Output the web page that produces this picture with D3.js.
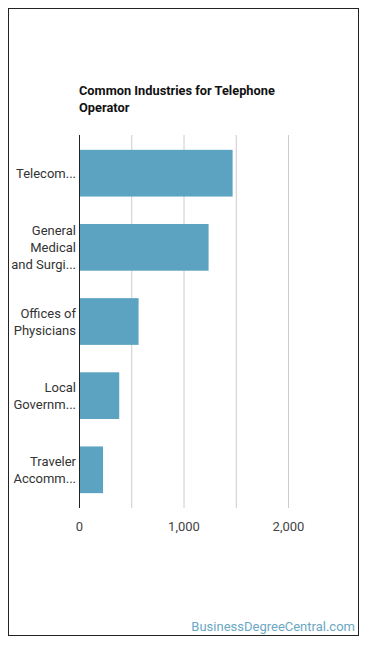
<!DOCTYPE html>
<html>
<head>
<meta charset="utf-8">
<script src="https://cdn.jsdelivr.net/npm/d3@7"></script>
<style>
  body { margin: 0; background: #fff; font-family: Roboto, sans-serif; }
  .tick text { font-family: Roboto, sans-serif; }
</style>
</head>
<body>
<div id="chart"></div>
<script>
// Datos
const industrias = [
  ["Telecom..."],
  ["General", "Medical", "and Surgi..."],
  ["Offices of", "Physicians"],
  ["Local", "Governm..."],
  ["Traveler", "Accomm..."]
]
const empleos = [1470, 1240, 570, 385, 230]
const ticksX = [0, 1000, 2000]
const gridX = [500, 1000, 1500, 2000]

const width = 370
const height = 648
const margin = { top: 135, bottom: 140, left: 79, right: 82 }

const svg = d3.select("#chart").append("svg")
  .attr("width", width)
  .attr("height", height)

// marco
svg.append("rect")
  .attr("x", 8.5).attr("y", 8.5)
  .attr("width", 350).attr("height", 627)
  .attr("fill", "none").attr("stroke", "#222").attr("stroke-width", 1)

// titulo
svg.append("text")
  .attr("x", 79).attr("y", 95)
  .attr("font-size", 12.8).attr("font-weight", "bold").attr("fill", "#111")
  .text("Common Industries for Telephone")
svg.append("text")
  .attr("x", 79).attr("y", 112)
  .attr("font-size", 12.8).attr("font-weight", "bold").attr("fill", "#111")
  .text("Operator")

const ids = industrias.map((d, i) => i)
const x = d3.scaleLinear().domain([0, 2000]).range([margin.left, width - margin.right])
const y = d3.scaleBand().domain(ids).range([margin.top, height - margin.bottom]).paddingInner(0.37).paddingOuter(0.2)

// rejilla
svg.append("g").selectAll("line")
  .data(gridX).enter().append("line")
  .attr("x1", d => x(d) + 0.5).attr("x2", d => x(d) + 0.5)
  .attr("y1", margin.top).attr("y2", height - margin.bottom)
  .attr("stroke", "#ccc").attr("stroke-width", 1)

// barras
svg.append("g").selectAll("rect")
  .data(empleos).enter().append("rect")
  .attr("x", x(0))
  .attr("y", (d, i) => y(i))
  .attr("width", d => x(d) - x(0))
  .attr("height", y.bandwidth())
  .attr("fill", "#5ba3c0")

// eje y
svg.append("line")
  .attr("x1", x(0) + 0.5).attr("x2", x(0) + 0.5)
  .attr("y1", margin.top).attr("y2", height - margin.bottom)
  .attr("stroke", "#222")

const etiquetas = svg.append("g").selectAll("text")
  .data(industrias).enter().append("text")
  .attr("text-anchor", "end")
  .attr("font-size", 13).attr("fill", "#333")
  .attr("y", (d, i) => y(i) + y.bandwidth() / 2 - (d.length - 1) * 8.5)
etiquetas.selectAll("tspan")
  .data(d => d).enter().append("tspan")
  .attr("x", x(0) - 3)
  .attr("dy", (d, j) => j === 0 ? "0.35em" : 17)
  .text(d => d)

// eje x
const xAxis = d3.axisBottom(x).tickValues(ticksX).tickFormat(d3.format(",")).tickSize(0)
svg.append("g")
  .attr("transform", `translate(0, ${height - margin.bottom + 11})`)
  .call(xAxis)
  .call(g => g.select(".domain").remove())
  .call(g => g.selectAll("text").attr("font-size", 13).attr("fill", "#444"))

// pie
svg.append("text")
  .attr("x", 355).attr("y", 631)
  .attr("text-anchor", "end")
  .attr("font-size", 13).attr("fill", "#6aa8c4")
  .text("BusinessDegreeCentral.com")
</script>
</body>
</html>
